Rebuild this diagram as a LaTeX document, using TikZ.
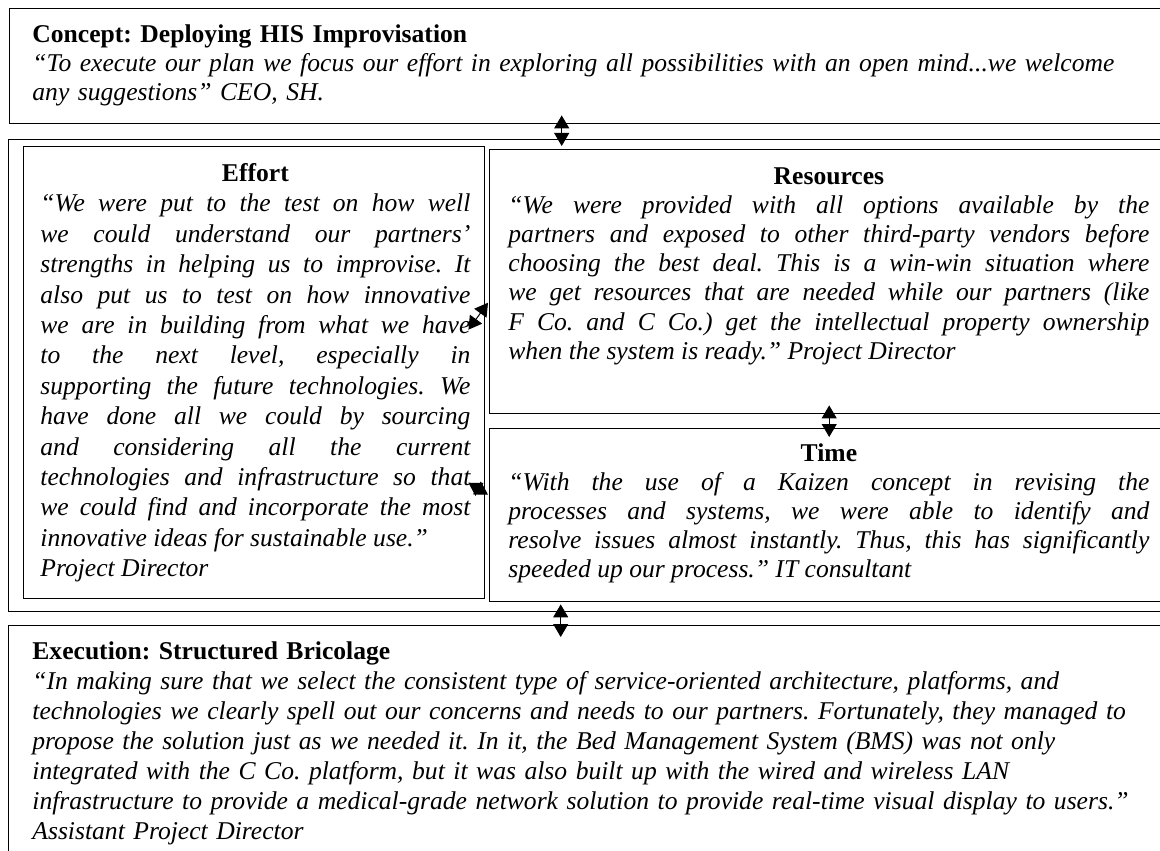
\documentclass[tikz,border=0pt]{standalone}
\usepackage{fontspec}
\setmainfont{Liberation Serif}
\usetikzlibrary{arrows.meta}
\frenchspacing

\tikzset{
  box/.style={draw, line width=0.7pt, inner sep=0pt, anchor=north west},
  quote/.style={inner sep=0pt, anchor=north west, align=justify,
    font=\fontsize{12.8}{14.6}\selectfont\itshape},
  link/.style={{Triangle[width=7.5pt,length=6.5pt]}-{Triangle[width=7.5pt,length=6.5pt]},
    line width=0.5pt},
}

\begin{document}
\begin{tikzpicture}[x=0.5pt,y=-0.5pt]
\useasboundingbox (0,0) rectangle (1160,850);

% boxes
\node[box, minimum width=578pt, minimum height=57.5pt] (concept) at (9,8) {};
\node[box, minimum width=583.5pt, minimum height=236pt] (frame) at (8,139) {};
\node[box, minimum width=230.5pt, minimum height=226pt] (effort) at (23,146) {};
\node[box, minimum width=339.5pt, minimum height=132pt] (resources) at (489,149) {};
\node[box, minimum width=339.5pt, minimum height=86.5pt] (time) at (489,428) {};
\node[box, minimum width=583.5pt, minimum height=127.5pt] (execution) at (8,625) {};

% texts
\node[quote, align=left, text width=570pt] (concept-txt) at (32,24) {%
  {\upshape\bfseries Concept: Deploying HIS Improvisation}\\
  “To execute our plan we focus our effort in exploring all possibilities with an open mind...we welcome\\
  any suggestions” CEO, SH.};

\node[quote, text width=215pt, font=\fontsize{12.8}{15.2}\selectfont\itshape] (effort-txt) at (40,163) {%
  {\centering\upshape\bfseries Effort\par}
  “We were put to the test on how well\linebreak
  we could understand our partners’\linebreak
  strengths in helping us to improvise. It\linebreak
  also put us to test on how innovative\linebreak
  we are in building from what we have\linebreak
  to the next level, especially in\linebreak
  supporting the future technologies. We\linebreak
  have done all we could by sourcing\linebreak
  and considering all the current\linebreak
  technologies and infrastructure so that\linebreak
  we could find and incorporate the most\linebreak
  innovative ideas for sustainable use.”\\
  Project Director};

\node[quote, text width=320.5pt] (resources-txt) at (508,167) {%
  {\centering\upshape\bfseries Resources\par}
  “We were provided with all options available by the\linebreak
  partners and exposed to other third-party vendors before\linebreak
  choosing the best deal. This is a win-win situation where\linebreak
  we get resources that are needed while our partners (like\linebreak
  F Co. and C Co.) get the intellectual property ownership\linebreak
  when the system is ready.” Project Director};

\node[quote, text width=320.5pt] (time-txt) at (508,443) {%
  {\centering\upshape\bfseries Time\par}
  “With the use of a Kaizen concept in revising the\linebreak
  processes and systems, we were able to identify and\linebreak
  resolve issues almost instantly. Thus, this has significantly\linebreak
  speeded up our process.” IT consultant};

\node[quote, align=left, text width=570pt, font=\fontsize{12.8}{15}\selectfont\itshape] (execution-txt) at (32,641) {%
  {\upshape\bfseries Execution: Structured Bricolage}\\
  “In making sure that we select the consistent type of service-oriented architecture, platforms, and\\
  technologies we clearly spell out our concerns and needs to our partners. Fortunately, they managed to\\
  propose the solution just as we needed it. In it, the Bed Management System (BMS) was not only\\
  integrated with the C Co. platform, but it was also built up with the wired and wireless LAN\\
  infrastructure to provide a medical-grade network solution to provide real-time visual display to users.”\\
  Assistant Project Director};

% links
\draw[link] ([xshift=-13pt,yshift=4.5pt]concept.south) -- ([xshift=-133.75pt,yshift=1.5pt]resources.north);
\draw[link] ([yshift=4.5pt]resources.south) -- ([yshift=-4.5pt]time.north);
\draw[link] ([xshift=-15.75pt,yshift=4pt]frame.south) -- ([xshift=-15.75pt,yshift=-6pt]execution.north);
\draw[link] ([xshift=-8.5pt,yshift=21.5pt]effort.east) -- ([xshift=-0.5pt,yshift=-10.5pt]resources.west);
\draw[link] ([xshift=-8.5pt,yshift=-55pt]effort.east) -- ([xshift=-0.5pt,yshift=10.25pt]time.west);
\end{tikzpicture}
\end{document}
